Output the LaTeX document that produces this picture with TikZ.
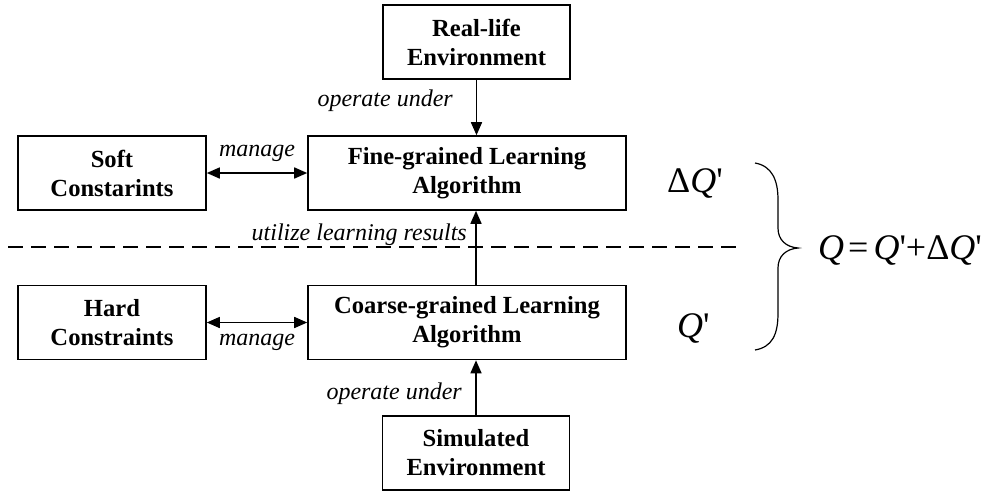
\documentclass[tikz,border=0pt]{standalone}
\usepackage{fontspec}
\setmainfont{Liberation Serif}
\newfontfamily\qfont{Liberation Serif}
\usetikzlibrary{arrows.meta}

\tikzset{
  blk/.style={draw, line width=1.6pt, align=center, inner sep=0pt,
    font=\bfseries\fontsize{24.6}{29}\selectfont},
  wide/.style={blk, minimum width=318pt, minimum height=74pt},
  side/.style={blk, minimum width=188pt, minimum height=74pt},
  env/.style={blk, minimum width=187pt, minimum height=74pt},
  lbl/.style={inner sep=0pt, font=\itshape\fontsize{24}{29}\selectfont},
  arr/.style={line width=1.6pt, -{Triangle[length=13pt,width=11pt]}},
  dblarr/.style={line width=1.6pt, {Triangle[length=13pt,width=11pt]}-{Triangle[length=13pt,width=11pt]}},
  qsym/.style={inner sep=0pt, font=\qfont\fontsize{36}{42}\selectfont},
}

\begin{document}
\begin{tikzpicture}[x=1pt, y=-1pt]
\useasboundingbox (0,0) rectangle (984,491);

% boxes
\node[env]  (real)   at (476.5,42)  {Real-life\\Environment};
\node[wide] (fine)   at (467,173)   {Fine-grained Learning\\Algorithm};
\node[side] (soft)   at (112,173)   {Soft\\Constarints};
\node[side] (hard)   at (112,322.5) {Hard\\Constraints};
\node[wide] (coarse) at (467,322.5) {Coarse-grained Learning\\Algorithm};
\node[env]  (sim)    at (476,453)   {Simulated\\Environment};

% connectors
\draw[arr] (real.south) -- (real.south |- fine.north);
\draw[arr] (sim.north) -- (sim.north |- coarse.south);
\draw[arr] (sim.north |- coarse.north) -- (sim.north |- fine.south);
\draw[dblarr] (soft.east) -- (fine.west);
\draw[dblarr] (hard.east) -- (coarse.west);

% separating line
\coordinate (dl) at (8,247);
\coordinate (dr) at (738,247);
\draw[line width=1.3pt, dash pattern=on 15pt off 8pt] (dl) -- (dr);

% edge labels
\node[lbl, anchor=base east] (op1) at (453,106) {operate under};
\node[lbl, anchor=base east] (op2) at (462,399) {operate under};
\node[lbl, anchor=base] (mg1) at (257,156) {manage};
\node[lbl, anchor=base] (mg2) at (257,345) {manage};
\node[lbl, anchor=base east] (use) at (467,240) {utilize learning results};

% quantities
\node[qsym, anchor=base west] (dq) at (667,192) {Δ\textit{Q}'};
\node[qsym, anchor=base west] (qp) at (677,337) {\textit{Q}'};

% brace
\draw[line width=1.2pt]
  (755,163) .. controls (772,166) and (778,180) .. (778,200)
  -- (778,228) .. controls (778,240) and (786,247) .. (798,248)
  .. controls (786,249) and (778,256) .. (778,268)
  -- (778,313) .. controls (778,335) and (772,347) .. (755,350);

\node[qsym, anchor=base west] (sum) at (818,259)
  {\textit{Q}\kern4pt=\kern5pt\textit{Q}'+Δ\textit{Q}'};
\end{tikzpicture}
\end{document}
